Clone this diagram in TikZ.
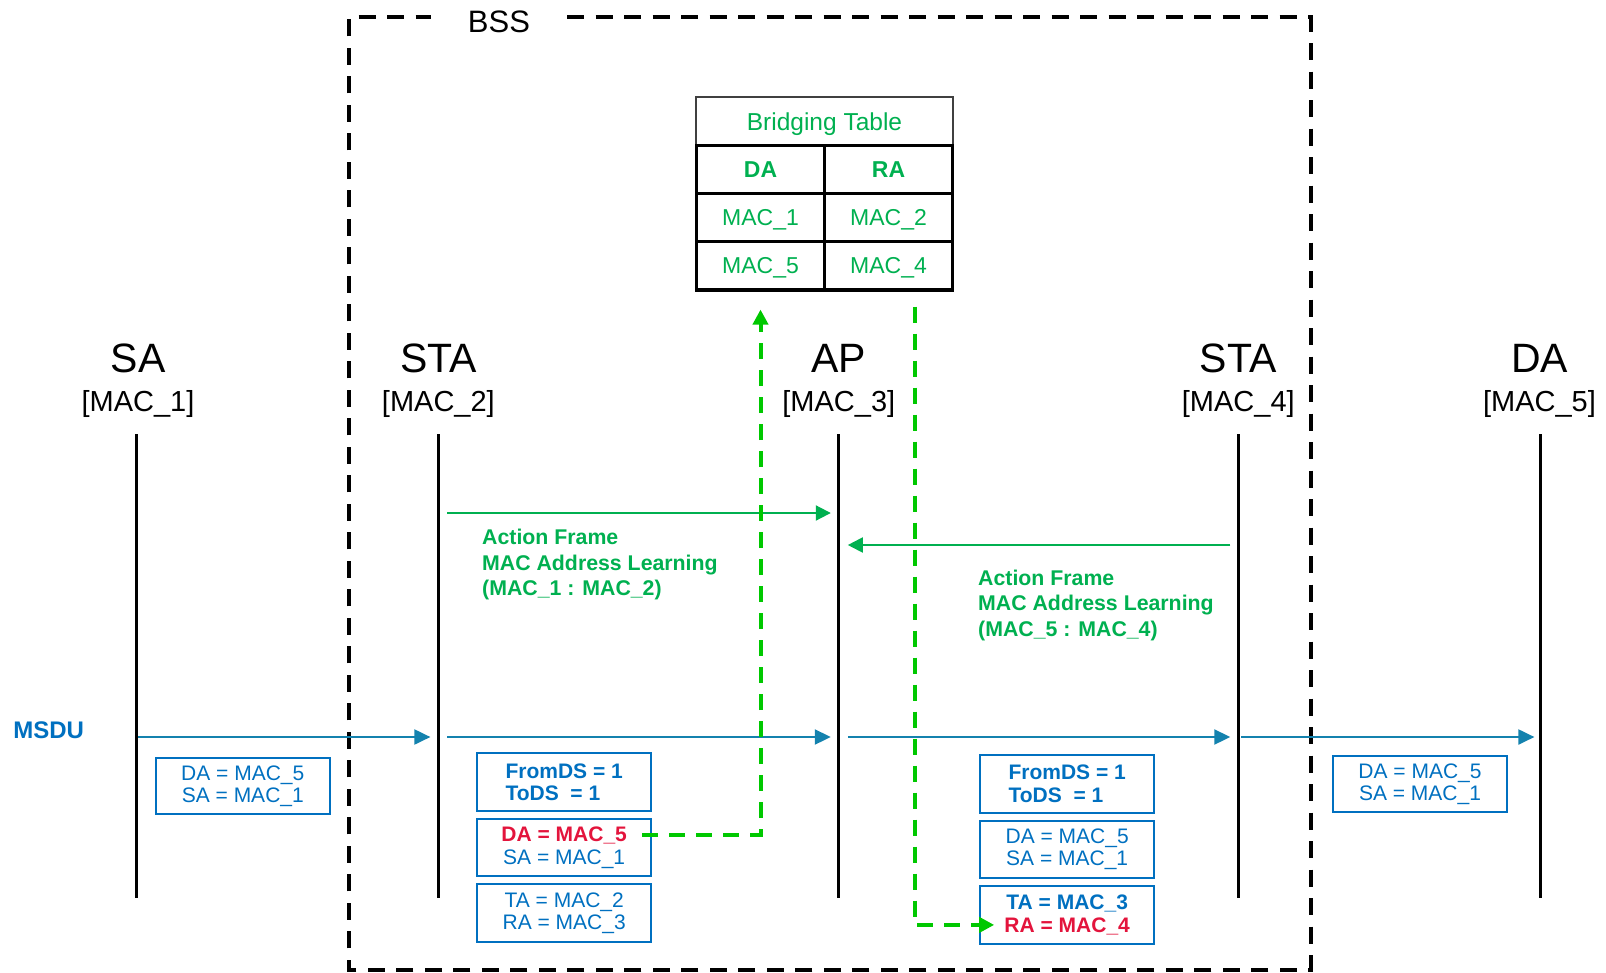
\documentclass[tikz,border=0pt]{standalone}
\usepackage{fontspec}
\setmainfont{Liberation Sans}
\usetikzlibrary{positioning, arrows.meta}
\definecolor{framblue}{HTML}{0070C0}
\definecolor{msgblue}{HTML}{1482AE}
\definecolor{learngreen}{HTML}{00B050}
\definecolor{dashgreen}{HTML}{00C800}
\definecolor{addrred}{HTML}{E3143C}

\begin{document}
\begin{tikzpicture}[x=1pt, y=-1pt,
    lifeline/.style={line width=3.3pt},
    head/.style={font=\fontsize{41}{44}\selectfont, inner sep=0pt},
    addr/.style={font=\fontsize{29}{32}\selectfont, inner sep=0pt},
    data/.style={draw=msgblue, line width=2pt, -{Triangle[length=16pt, width=15pt]}},
    action/.style={draw=learngreen, line width=2pt, -{Triangle[length=15pt, width=15pt]}},
    learn/.style={draw=dashgreen, line width=4pt, dash pattern=on 16pt off 11pt, -{Triangle[length=15pt, width=15pt]}},
    frm/.style={draw=framblue, line width=2pt, minimum width=174pt, minimum height=57.5pt, text=framblue, font=\fontsize{21}{22.3}\selectfont, align=center, inner sep=0pt},
    note/.style={text=learngreen, font=\bfseries\fontsize{21.3}{25.5}\selectfont, align=left, inner sep=0pt, anchor=west},
    cell/.style={draw, line width=3.3pt, minimum width=128.1pt, minimum height=48.2pt, inner sep=0pt, text depth=0pt, text=learngreen, font=\fontsize{23}{26}\selectfont}
  ]
  \useasboundingbox (0,0) rectangle (1606,972);

  % BSS
  \node[font=\fontsize{31}{34}\selectfont, inner xsep=37pt, inner ysep=0pt] (bss) at (499,21.7) {BSS};
  \coordinate (bss nw) at (349,17.4);
  \coordinate (bss ne) at (1311,17.4);
  \coordinate (bss se) at (1311,969.5);
  \coordinate (bss sw) at (349,969.5);
  \draw[line width=4pt, dash pattern=on 17pt off 11.5pt] (bss.east |- bss ne) -- (bss ne) -- (bss se) -- (bss sw) -- (bss nw) -- (bss.west |- bss nw);

  % bridging table
  \node[cell, minimum width=256.1pt, line width=2pt, draw=black!75, font=\fontsize{24.5}{27}\selectfont] (title) at (824.5,121.4) {Bridging Table};
  \node[cell, font=\bfseries\fontsize{23}{26}\selectfont] (hda) at (760.5,169.5) {DA};
  \node[cell, font=\bfseries\fontsize{23}{26}\selectfont] (hra) at (888.5,169.5) {RA};
  \node[cell] (c11) at (760.5,217.7) {MAC\_1};
  \node[cell] (c12) at (888.5,217.7) {MAC\_2};
  \node[cell] (c51) at (760.5,265.8) {MAC\_5};
  \node[cell] (c54) at (888.5,265.8) {MAC\_4};

  % stations
  \node[head] (sa) at (138,358.5) {SA};
  \node[addr] (samac) at (138,404) {[MAC\_1]};
  \node[head] (sta1) at (438.4,358.5) {STA};
  \node[addr] (sta1mac) at (438.4,404) {[MAC\_2]};
  \node[head] (ap) at (838.8,358.5) {AP};
  \node[addr] (apmac) at (838.8,404) {[MAC\_3]};
  \node[head] (sta2) at (1238.3,358.5) {STA};
  \node[addr] (sta2mac) at (1238.3,404) {[MAC\_4]};
  \node[head] (da) at (1539.5,358.5) {DA};
  \node[addr] (damac) at (1539.5,404) {[MAC\_5]};

  % lifelines
  \coordinate (sa top) at (136.2,434);
  \coordinate (sa bot) at (136.2,898);
  \coordinate (sta1 top) at (438.4,434);
  \coordinate (sta1 bot) at (438.4,898);
  \coordinate (ap top) at (838.8,434);
  \coordinate (ap bot) at (838.8,898);
  \coordinate (sta2 top) at (1238.3,434);
  \coordinate (sta2 bot) at (1238.3,898);
  \coordinate (da top) at (1540.4,434);
  \coordinate (da bot) at (1540.4,898);
  \draw[lifeline] (sa top) -- (sa bot);
  \draw[lifeline] (sta1 top) -- (sta1 bot);
  \draw[lifeline] (ap top) -- (ap bot);
  \draw[lifeline] (sta2 top) -- (sta2 bot);
  \draw[lifeline] (da top) -- (da bot);

  % action frames
  \coordinate (row act1) at (0,513);
  \coordinate (row act2) at (0,545);
  \draw[action] ([xshift=9pt]sta1 top |- row act1) -- ([xshift=-8pt]ap top |- row act1);
  \node[note] (note1) at (482,564.5) {Action Frame\\MAC Address Learning\\(MAC\_1 : MAC\_2)};
  \draw[action] ([xshift=-8pt]sta2 top |- row act2) -- ([xshift=9pt]ap top |- row act2);
  \node[note] (note2) at (978,605) {Action Frame\\MAC Address Learning\\(MAC\_5 : MAC\_4)};

  % data path
  \node[text=framblue, font=\bfseries\fontsize{24}{26}\selectfont, inner sep=0pt] (msdu) at (48.6,730.5) {MSDU};
  \coordinate (row data) at (0,737);
  \draw[data] ([xshift=2pt]sa top |- row data) -- ([xshift=-8pt]sta1 top |- row data);
  \draw[data] ([xshift=9pt]sta1 top |- row data) -- ([xshift=-8pt]ap top |- row data);
  \draw[data] ([xshift=9pt]ap top |- row data) -- ([xshift=-8pt]sta2 top |- row data);
  \draw[data] ([xshift=3pt]sta2 top |- row data) -- ([xshift=-6pt]da top |- row data);

  % frames
  \node[frm, minimum height=56.3pt] (sabox) at (242.8,786) {DA = MAC\_5\\SA = MAC\_1};
  \node[frm, align=left, font=\bfseries\fontsize{21}{22.3}\selectfont] (lbox1) at (564.2,782.2) {FromDS = 1\\ToDS~~= 1};
  \node[frm, below=6pt of lbox1] (lbox2) {\textcolor{addrred}{\bfseries DA = MAC\_5}\\SA = MAC\_1};
  \node[frm, below=6pt of lbox2] (lbox3) {TA = MAC\_2\\RA = MAC\_3};
  \node[frm, align=left, font=\bfseries\fontsize{21}{22.3}\selectfont] (rbox1) at (1067.2,783.9) {FromDS = 1\\ToDS~~= 1};
  \node[frm, below=6pt of rbox1] (rbox2) {DA = MAC\_5\\SA = MAC\_1};
  \node[frm, below=6pt of rbox2, font=\bfseries\fontsize{21}{22.3}\selectfont] (rbox3) {TA = MAC\_3\\\textcolor{addrred}{RA = MAC\_4}};
  \node[frm, minimum height=56.6pt] (dabox) at (1420,784) {DA = MAC\_5\\SA = MAC\_1};

  % table learning
  \draw[learn, shorten >=18pt] ([xshift=-10pt, yshift=13pt]lbox2.east) -| (c51.south);
  \draw[learn, shorten <=15pt] ([xshift=26pt]c54.south) |- ([xshift=15pt, yshift=-10pt]rbox3.west);
\end{tikzpicture}
\end{document}
